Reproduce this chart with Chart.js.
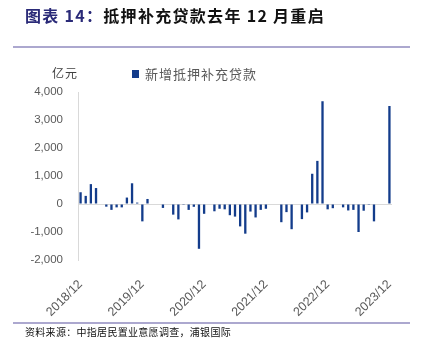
<!DOCTYPE html>
<html><head><meta charset="utf-8">
<script src="https://cdn.jsdelivr.net/npm/chart.js@4.4.0/dist/chart.umd.min.js"></script>
<style>
html,body{margin:0;padding:0;background:#fff;width:427px;height:345px;overflow:hidden;position:relative;font-family:"Noto Sans CJK SC",sans-serif;}
#c{position:absolute;left:0;top:0;}
.t{position:absolute;white-space:nowrap;line-height:1;}
#title{left:25px;top:7px;font-size:16px;font-weight:bold;color:#111;letter-spacing:1.3px;}
#title span{color:#2a2a78;}
.rule{position:absolute;left:13px;width:397px;height:2px;background:#aca8cf;}
#unit{left:52px;top:67px;font-size:12px;color:#404040;letter-spacing:1px;}
#legbox{position:absolute;left:132px;top:70px;width:7px;height:8px;background:#133c8b;}
#legend{left:145px;top:67px;font-size:13px;color:#595959;letter-spacing:1px;}
#src{left:25px;top:327px;font-size:10px;color:#111;letter-spacing:0.3px;}
</style></head>
<body>
<canvas id="c" width="427" height="345"></canvas>
<div class="t" id="title"><span>图表 14：</span>抵押补充贷款去年 12 月重启</div>
<div class="rule" style="top:46px"></div>
<div class="t" id="unit">亿元</div>
<div id="legbox"></div>
<div class="t" id="legend">新增抵押补充贷款</div>
<div class="rule" style="top:322px"></div>
<div class="t" id="src">资料来源：中指居民置业意愿调查，浦银国际</div>
<script>
const categories = [
 "2018/12",
 "2019/01","2019/02","2019/03","2019/04","2019/05","2019/06","2019/07","2019/08","2019/09","2019/10","2019/11","2019/12",
 "2020/01","2020/02","2020/03","2020/04","2020/05","2020/06","2020/07","2020/08","2020/09","2020/10","2020/11","2020/12",
 "2021/01","2021/02","2021/03","2021/04","2021/05","2021/06","2021/07","2021/08","2021/09","2021/10","2021/11","2021/12",
 "2022/01","2022/02","2022/03","2022/04","2022/05","2022/06","2022/07","2022/08","2022/09","2022/10","2022/11","2022/12",
 "2023/01","2023/02","2023/03","2023/04","2023/05","2023/06","2023/07","2023/08","2023/09","2023/10","2023/11","2023/12"
];
const newPSL = [
 420,
 290, 710, 570, 0, -95, -210, -120, -120, 230, 740, 50, -620,
 180, 0, 0, -140, 0, -380, -550, -30, -210, -100, -1600, -350,
 0, -260, -170, -190, -400, -450, -800, -1060, -270, -480, -210, -170,
 0, 0, -650, -290, -900, 0, -540, -300, 1080, 1540, 3670, -190,
 -150, 0, -120, -230, -210, -1000, -240, -30, -620, 0, 0, 3500
];
const tickLabels = ["2018/12","2019/12","2020/12","2021/12","2022/12","2023/12"];
const seriesName = "新增抵押补充贷款";

function fmt(v){ const s = Math.abs(v).toString().replace(/\B(?=(\d{3})+(?!\d))/g, ","); return (v<0?"-":"")+s; }

new Chart(document.getElementById('c'), {
  type: 'bar',
  data: { labels: categories, datasets: [{ label: seriesName, data: newPSL, backgroundColor: '#133c8b', barPercentage: 0.45, categoryPercentage: 1 }] },
  options: {
    responsive: false, animation: false,
    layout: { padding: { left: 0, right: 35, top: 92, bottom: 0 } },
    plugins: { legend: { display: false }, tooltip: { enabled: false } },
    scales: {
      x: {
        grid: { display: false }, border: { display: false },
        ticks: { autoSkip: false, minRotation: 45, maxRotation: 45, color: '#595959', padding: 9,
          font: { family: 'Liberation Sans', size: 12.5 },
          callback: (v, i) => tickLabels.includes(categories[i]) ? categories[i] : '' },
        afterFit: s => { s.height = 85; }
      },
      y: {
        min: -2000, max: 4000,
        ticks: { stepSize: 1000, color: '#595959', padding: 15, font: { family: 'Liberation Sans', size: 11.5 }, callback: v => fmt(v) },
        grid: { drawTicks: false, color: c => (c.tick && c.tick.value === 0) ? '#d9d9d9' : 'rgba(0,0,0,0)', lineWidth: 1 },
        border: { display: true, color: '#d9d9d9' },
        afterFit: s => { s.width = 78; }
      }
    }
  }
});
</script>
</body></html>
